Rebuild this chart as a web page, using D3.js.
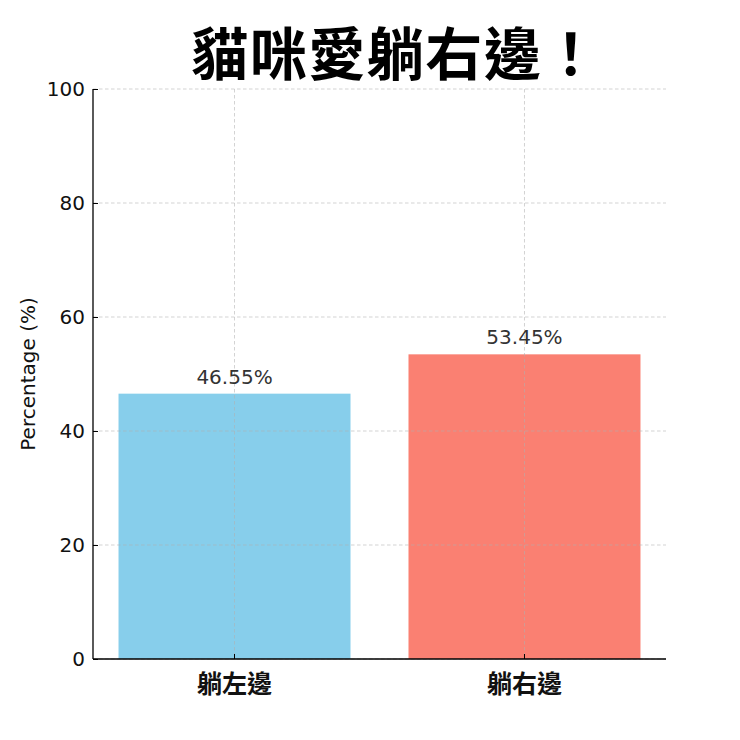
<!DOCTYPE html>
<html>
<head>
<meta charset="utf-8">
<script src="https://cdn.jsdelivr.net/npm/d3@7"></script>
<style>
  html, body { margin: 0; padding: 0; background: #fff; }
  svg { display: block; }
</style>
</head>
<body>
<svg id="chart" width="740" height="740"></svg>
<script>
const categories = ["躺左邊", "躺右邊"];
const percentages = [46.55, 53.45];
const barColors = ["#87CEEB", "#FA8072"];
const yTicks = [0, 20, 40, 60, 80, 100];
const titleText = "貓咪愛躺右邊！";
const yLabel = "Percentage (%)";

const svg = d3.select("#chart");
const margin = { left: 93, right: 74, top: 89, bottom: 81 };
const W = 740, H = 740;
const x0 = margin.left, x1 = W - margin.right;
const y0 = H - margin.bottom, y1 = margin.top;

const x = d3.scaleBand().domain(categories).range([x0, x1]).paddingInner(0.2).paddingOuter(0.088);
const y = d3.scaleLinear().domain([0, 100]).range([y0, y1]);

const latin = "'DejaVu Sans', sans-serif";
const cjk = "'Noto Sans CJK TC', 'Noto Sans CJK SC', sans-serif";

// bars
svg.append("g").selectAll("rect").data(categories).join("rect")
  .attr("x", d => x(d))
  .attr("y", (d, i) => y(percentages[i]))
  .attr("width", x.bandwidth())
  .attr("height", (d, i) => y(0) - y(percentages[i]))
  .attr("fill", (d, i) => barColors[i]);

// grid (above bars)
const grid = svg.append("g").attr("stroke", "#b0b0b0").attr("stroke-opacity", 0.7)
  .attr("stroke-width", 0.8).attr("stroke-dasharray", "3.5,2.5");
grid.selectAll("line.h").data(yTicks).join("line").attr("class", "h")
  .attr("x1", x0).attr("x2", x1)
  .attr("y1", d => y(d)).attr("y2", d => y(d));
grid.selectAll("line.v").data(categories).join("line").attr("class", "v")
  .attr("x1", d => x(d) + x.bandwidth() / 2).attr("x2", d => x(d) + x.bandwidth() / 2)
  .attr("y1", y1).attr("y2", y0);

// axes
const yAxis = d3.axisLeft(y).tickValues(yTicks).tickSize(-5).tickPadding(8).tickFormat(d3.format("d"));
const gy = svg.append("g").attr("transform", `translate(${x0},0)`).call(yAxis);
gy.select(".domain").attr("d", `M0,${y0}V${y1}`).attr("stroke", "#000").attr("stroke-width", 1.3);
gy.selectAll(".tick line").attr("stroke", "#000").attr("stroke-width", 1);
gy.selectAll(".tick text").attr("font-family", latin).attr("font-size", 20).attr("fill", "#111");

const xAxis = d3.axisBottom(x).tickSize(-5).tickPadding(16);
const gx = svg.append("g").attr("transform", `translate(0,${y0})`).call(xAxis);
gx.select(".domain").attr("d", `M${x0},0H${x1}`).attr("stroke", "#000").attr("stroke-width", 1.3);
gx.selectAll(".tick line").attr("stroke", "#000").attr("stroke-width", 1);
gx.selectAll(".tick text").attr("font-family", cjk).attr("font-size", 25)
  .attr("font-weight", "bold").attr("fill", "#111").attr("dy", "0.72em");

// value labels
svg.append("g").selectAll("text").data(categories).join("text")
  .attr("x", d => x(d) + x.bandwidth() / 2)
  .attr("y", (d, i) => y(percentages[i]) - 10)
  .attr("text-anchor", "middle")
  .attr("font-family", latin).attr("font-size", 20).attr("fill", "#333")
  .text((d, i) => percentages[i].toFixed(2) + "%");

// y label
svg.append("text")
  .attr("transform", `translate(35,${(y0 + y1) / 2}) rotate(-90)`)
  .attr("text-anchor", "middle")
  .attr("font-family", latin).attr("font-size", 20).attr("fill", "#111")
  .text(yLabel);

// title
svg.append("text")
  .attr("x", 396).attr("y", 75)
  .attr("text-anchor", "middle")
  .attr("font-family", cjk).attr("font-size", 57).attr("font-weight", "bold")
  .attr("letter-spacing", 1.5).attr("fill", "#000")
  .text(titleText);
</script>
</body>
</html>
